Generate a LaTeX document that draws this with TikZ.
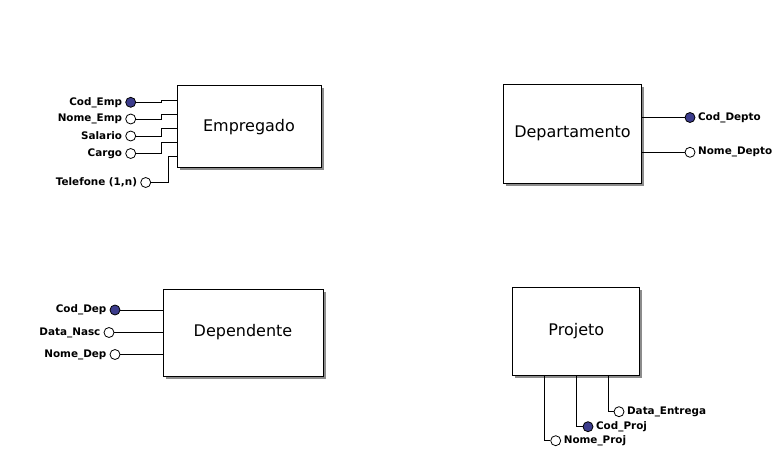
\documentclass[tikz,border=0pt]{standalone}
\usepackage{fontspec}
\setmainfont{DejaVu Sans}
\usetikzlibrary{shadows}
\definecolor{keyblue}{RGB}{60,60,140}
\tikzset{
  entity/.style={draw, fill=white, line width=1pt, inner sep=0pt,
    font=\fontsize{16}{19}\selectfont,
    drop shadow={shadow xshift=2.5pt, shadow yshift=-2.5pt, fill=black!45, opacity=1}},
  attr/.style={circle, draw, fill=white, line width=0.8pt, minimum size=10pt, inner sep=0pt},
  keyattr/.style={attr, fill=keyblue},
  lbl/.style={font=\fontsize{10.4}{12}\bfseries, inner sep=0pt},
  conn/.style={line width=0.9pt},
}
\begin{document}
\begin{tikzpicture}[x=1pt,y=-1pt]
\useasboundingbox (0,0) rectangle (784,457);
% entities
\node[entity, minimum width=144pt, minimum height=82pt] (emp) at (249,127) {Empregado};
\node[entity, minimum width=138pt, minimum height=99pt] (dpt) at (572.5,133.8) {Departamento};
\node[entity, minimum width=160pt, minimum height=87pt] (dpd) at (243,332.5) {Dependente};
\node[entity, minimum width=127pt, minimum height=88pt] (prj) at (576.3,331.2) {Projeto};

% Empregado attributes
\node[keyattr, label={[lbl,label distance=3pt]left:Cod\_Emp}] (e1) at (130.7,102.3) {};
\node[attr, label={[lbl,label distance=3pt]left:Nome\_Emp}] (e2) at (130.7,119) {};
\node[attr, label={[lbl,label distance=3pt]left:Salario}] (e3) at (130.7,136) {};
\node[attr, label={[lbl,label distance=3pt]left:Cargo}] (e4) at (130.7,153.5) {};
\node[attr, label={[lbl,label distance=3pt]left:Telefone (1,n)}] (e5) at (145.7,182.5) {};
\draw[conn] (e1.east) -- ++(25,0) |- ([yshift=-14.7pt]emp.north west);
\draw[conn] (e2.east) -- ++(25,0) |- ([yshift=-29pt]emp.north west);
\draw[conn] (e3.east) -- ++(25,0) |- ([yshift=-43pt]emp.north west);
\draw[conn] (e4.east) -- ++(25,0) |- ([yshift=-56.7pt]emp.north west);
\draw[conn] (e5.east) -- ++(17.6,0) |- ([yshift=-70.7pt]emp.north west);

% Departamento attributes
\node[keyattr, label={[lbl,label distance=2.5pt]right:Cod\_Depto}] (d1) at (690,117.5) {};
\node[attr, label={[lbl,label distance=2.5pt]right:Nome\_Depto}] (d2) at (690,152.3) {};
\draw[conn] (d1.west) -- (d1 -| dpt.east);
\draw[conn] (d2.west) -- (d2 -| dpt.east);

% Dependente attributes
\node[keyattr, label={[lbl,label distance=3pt]left:Cod\_Dep}] (p1) at (115,310) {};
\node[attr, label={[lbl,label distance=3pt]left:Data\_Nasc}] (p2) at (109,332.5) {};
\node[attr, label={[lbl,label distance=3pt]left:Nome\_Dep}] (p3) at (115,354.5) {};
\draw[conn] (p1.east) -- (p1 -| dpd.west);
\draw[conn] (p2.east) -- (p2 -| dpd.west);
\draw[conn] (p3.east) -- (p3 -| dpd.west);

% Projeto attributes
\node[attr, label={[lbl,label distance=2.5pt]right:Data\_Entrega}] (j1) at (619,411.7) {};
\node[keyattr, label={[lbl,label distance=2.5pt]right:Cod\_Proj}] (j2) at (588,426.7) {};
\node[attr, label={[lbl,label distance=2.5pt]right:Nome\_Proj}] (j3) at (555.7,440.7) {};
\draw[conn] (j1.west) -| ([xshift=32.2pt]prj.south);
\draw[conn] (j2.west) -| ([xshift=0.2pt]prj.south);
\draw[conn] (j3.west) -| ([xshift=-32.3pt]prj.south);
\end{tikzpicture}
\end{document}
